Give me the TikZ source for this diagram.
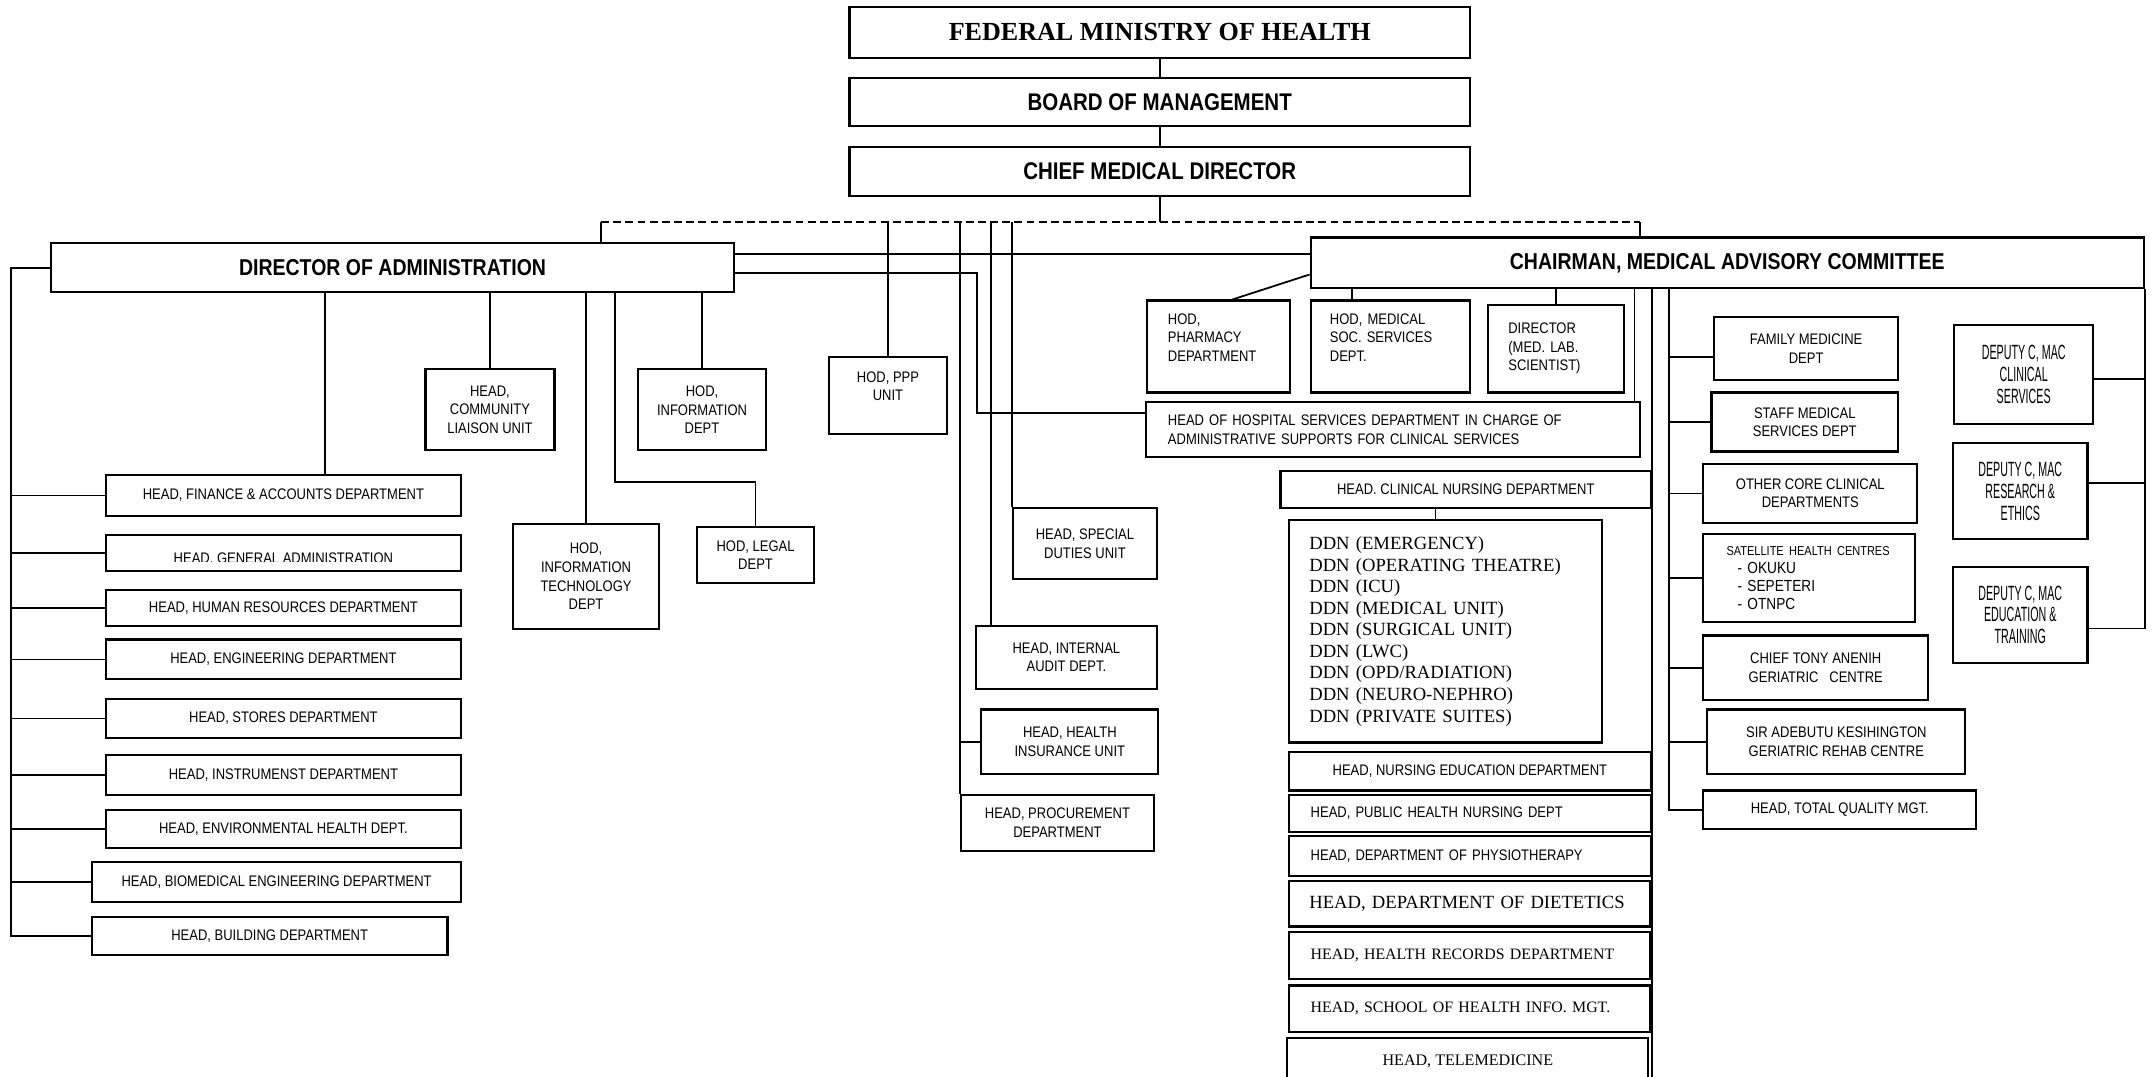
\documentclass[tikz,border=0pt]{standalone}
\usepackage{fontspec}
\setmainfont{Liberation Sans}[FakeStretch=0.85]
\newfontfamily\slimfont{Liberation Sans}[FakeStretch=0.52]
\newfontfamily\timesfont{Liberation Serif}
\newlength\un
\setlength\un{0.7pt}
\tikzset{
  box/.style={draw, line width=1.1pt, inner sep=0pt, align=center, font=\fontsize{7.8}{9.45}\selectfont},
  wh/.style 2 args={minimum width=#1*\un, minimum height=#2*\un},
  lbox/.style n args={3}{box, align=left, inner xsep=#3*\un, text width=(#1-2*#3)*\un, minimum height=#2*\un},
  headline/.style={font=\bfseries\fontsize{11.7}{14}\selectfont},
  dep/.style={font=\slimfont\fontsize{10.5}{11.2}\selectfont},
  serifbox/.style={font=\timesfont\fontsize{#1}{11}\selectfont},
  conn/.style={line width=0.9pt},
}
\begin{document}
\begin{tikzpicture}[x=0.7pt, y=-0.7pt]
\fill[white] (0,0) rectangle (1568,784);
\useasboundingbox (0,0) rectangle (1568,784);

% top of the chart
\node[box, wh={452}{37}, font=\timesfont\bfseries\fontsize{13.3}{16}\selectfont] (fmh) at (845,23.5) {FEDERAL MINISTRY OF HEALTH};
\node[box, wh={452}{35}, font=\bfseries\fontsize{12.3}{15}\selectfont] (bom) at (845,74.5) {BOARD OF MANAGEMENT};
\node[box, wh={452}{36}, font=\bfseries\fontsize{12.3}{15}\selectfont] (cmd) at (845,125) {CHIEF MEDICAL DIRECTOR};
\node[box, wh={498}{36}, headline] (doa) at (286,195) {DIRECTOR OF ADMINISTRATION};
\node[box, wh={607}{37}, headline] (cmac) at (1258.5,191.5) {CHAIRMAN, MEDICAL ADVISORY COMMITTEE};

\draw[conn] (fmh) -- (bom);
\draw[conn] (bom) -- (cmd);
\coordinate (dl) at (438,162);
\coordinate (dr) at (1195,162);
\draw[conn] (cmd) -- (cmd.south |- dl);
\draw[conn, dash pattern=on 4pt off 2.2pt] (dl) -- (dr);
\draw[conn] (dl) -- (dl |- doa.north);
\draw[conn] (dr) -- (dr |- cmac.north);

% administration, left column
\node[box, wh={259}{30}] (fin) at (206.5,361) {HEAD, FINANCE \& ACCOUNTS DEPARTMENT};
\node[box, wh={259}{26}] (gen) at (206.5,403) {};
\begin{scope}
  \clip (gen.north west) rectangle (gen.east |- 0,408.8);
  \node[anchor=base, font=\fontsize{7.8}{9.45}\selectfont] (gentxt) at (gen.center |- 0,410.6) {HEAD, GENERAL ADMINISTRATION};
\end{scope}
\node[box, wh={259}{26}] (hr) at (206.5,443) {HEAD, HUMAN RESOURCES DEPARTMENT};
\node[box, wh={259}{29}] (eng) at (206.5,480.5) {HEAD, ENGINEERING DEPARTMENT};
\node[box, wh={259}{29}] (sto) at (206.5,523.5) {HEAD, STORES DEPARTMENT};
\node[box, wh={259}{29}] (ins) at (206.5,564.5) {HEAD, INSTRUMENST DEPARTMENT};
\node[box, wh={259}{28}] (env) at (206.5,604) {HEAD, ENVIRONMENTAL HEALTH DEPT.};
\node[box, wh={269}{29}] (bio) at (201.5,642.5) {HEAD, BIOMEDICAL ENGINEERING DEPARTMENT};
\node[box, wh={259}{28}] (bld) at (196.5,682) {HEAD, BUILDING DEPARTMENT};

\coordinate (lb) at (8,0);
\draw[conn] (doa.west) -| (lb |- bld.west) -- (bld.west);
\foreach \b in {fin,gen,hr,eng,sto,ins,env,bio}
  \draw[conn] (lb |- \b.west) -- (\b.west);
\draw[conn] (doa.south -| 237,0) -- (fin.north -| 237,0);

% administration, middle
\node[box, wh={94}{59}] (comm) at (357,298.5) {HEAD,\\COMMUNITY\\LIAISON UNIT};
\node[box, wh={93}{59}] (info) at (511.5,298.5) {HOD,\\INFORMATION\\DEPT};
\node[box, wh={106}{76}] (it) at (427,420) {HOD,\\INFORMATION\\TECHNOLOGY\\DEPT};
\node[box, wh={85}{41}] (legal) at (550.5,404.5) {HOD, LEGAL\\DEPT};
\node[box, wh={86}{56}] (ppp) at (647,288) {HOD, PPP\\UNIT\\\mbox{}};
\node[box, wh={105}{52}] (spec) at (790.5,396) {HEAD, SPECIAL\\DUTIES UNIT};
\node[box, wh={132}{46}] (audit) at (777,479) {HEAD, INTERNAL\\AUDIT DEPT.};
\node[box, wh={129}{47}] (hins) at (779.5,540.5) {HEAD, HEALTH\\INSURANCE UNIT};
\node[box, wh={141}{41}] (proc) at (770.5,599.5) {HEAD, PROCUREMENT\\DEPARTMENT};

\draw[conn] (doa.south -| comm.north) -- (comm.north);
\draw[conn] (doa.south -| info.north) -- (info.north);
\draw[conn] (doa.south -| it.north) -- (it.north);
\draw[conn] (doa.south -| 448,0) |- (legal.north |- 0,351) -- (legal.north);
\draw[conn] (dl -| ppp.north) -- (ppp.north);
\draw[conn] (dl -| proc.north west) -- (proc.north west);
\draw[conn] (proc.north west |- hins.west) -- (hins.west);
\draw[conn] (dl -| 722,0) -- (audit.north -| 722,0);
\draw[conn] (dl -| spec.north west) -- (spec.north west);

% clinical side
\node[lbox={104}{67}{15}] (pharm) at (888,252.5) {HOD,\\PHARMACY\\DEPARTMENT\\\mbox{}};
\node[lbox={116}{67}{14}] (medsoc) at (1013,252.5) {HOD, MEDICAL\\SOC. SERVICES\\DEPT.\\\mbox{}};
\node[lbox={99}{64}{15}] (medlab) at (1133.5,254) {DIRECTOR\\(MED. LAB.\\SCIENTIST)};
\node[lbox={360}{40}{16}] (hosp) at (1015,313) {HEAD OF HOSPITAL SERVICES DEPARTMENT IN CHARGE OF\\ADMINISTRATIVE SUPPORTS FOR CLINICAL SERVICES};
\node[box, wh={270}{27}] (cnd) at (1068,356.5) {HEAD. CLINICAL NURSING DEPARTMENT};
\node[lbox={228}{162}{15}, serifbox=9.5] (ddn) at (1053,460) {DDN (EMERGENCY)\\DDN (OPERATING THEATRE)\\DDN (ICU)\\DDN (MEDICAL UNIT)\\DDN (SURGICAL UNIT)\\DDN (LWC)\\DDN (OPD/RADIATION)\\DDN (NEURO-NEPHRO)\\DDN (PRIVATE SUITES)};
\node[box, wh={264}{28}] (nedu) at (1071,562) {HEAD, NURSING EDUCATION DEPARTMENT};
\node[lbox={264}{27}{16}] (phn) at (1071,592.5) {HEAD, PUBLIC HEALTH NURSING DEPT};
\node[lbox={264}{29}{16}] (phys) at (1071,623.5) {HEAD, DEPARTMENT OF PHYSIOTHERAPY};
\node[lbox={263}{33}{15}, serifbox=9.5] (diet) at (1070.5,658.5) {HEAD, DEPARTMENT OF DIETETICS};
\node[lbox={263}{34}{16}, serifbox=8.1] (hrec) at (1070.5,696) {HEAD, HEALTH RECORDS DEPARTMENT};
\node[lbox={263}{34}{16}, serifbox=8.1] (shim) at (1070.5,735) {HEAD, SCHOOL OF HEALTH INFO. MGT.};
\node[box, wh={263}{34}, serifbox=8.2] (tele) at (1069.5,773) {HEAD, TELEMEDICINE};

\draw[conn] (doa.east |- 0,185) -- (cmac.west |- 0,185);
\draw[conn] (doa.east |- 0,199) -| (712,301) -- (hosp.west |- 0,301);
\draw[conn] (cmac.west |- 0,200) -- (pharm.north -| 898,0);
\draw[conn] (cmac.south -| 985,0) -- (medsoc.north -| 985,0);
\draw[conn] (cmac.south -| medlab.north) -- (medlab.north);
\draw[conn] (cmac.south -| 1191,0) -- (hosp.north -| 1191,0);
\draw[conn] (cmac.south -| cnd.east) -- (cnd.east |- tele.south);
\draw[conn] (cnd.south -| 1046,0) -- (ddn.north -| 1046,0);

% clinical departments and centres
\node[box, wh={134}{46}] (fam) at (1316,254) {FAMILY MEDICINE\\DEPT};
\node[box, wh={136}{43}] (staff) at (1315,307.5) {STAFF MEDICAL\\SERVICES DEPT};
\node[box, wh={156}{43}] (other) at (1319,359.5) {OTHER CORE CLINICAL\\DEPARTMENTS};
\node[lbox={154}{64}{17}, font=\fontsize{8.2}{9.2}\selectfont] (sat) at (1318,421) {{\fontsize{6.6}{9.2}\selectfont SATELLITE HEALTH CENTRES}\\\hspace*{8\un}- OKUKU\\\hspace*{8\un}- SEPETERI\\\hspace*{8\un}- OTNPC};
\node[box, wh={164}{47}] (tony) at (1323,486.5) {CHIEF TONY ANENIH\\GERIATRIC\ \ \ CENTRE};
\node[box, wh={188}{47}] (sir) at (1338,540.5) {SIR ADEBUTU KESIHINGTON\\GERIATRIC REHAB CENTRE};
\node[box, wh={199}{28}] (tqm) at (1340.5,590) {HEAD, TOTAL QUALITY MGT.};

\coordinate (rb) at (1216,0);
\draw[conn] (cmac.south -| rb) |- (tqm.west);
\draw[conn] (rb |- 0,260) -- (fam.west |- 0,260);
\foreach \b in {staff,other,sat,tony,sir}
  \draw[conn] (rb |- \b.west) -- (\b.west);

% deputies
\node[box, wh={101}{72}, dep] (dcs) at (1474.5,273) {DEPUTY C, MAC\\CLINICAL\\SERVICES};
\node[box, wh={98}{70}, dep] (dre) at (1472,358) {DEPUTY C, MAC\\RESEARCH \&\\ETHICS};
\node[box, wh={98}{70}, dep] (ded) at (1472,448) {DEPUTY C, MAC\\EDUCATION \&\\TRAINING};

\draw[conn] (cmac.south east) |- (ded.east |- 0,458);
\draw[conn] (cmac.south east |- 0,276) -- (dcs.east |- 0,276);
\draw[conn] (cmac.south east |- 0,352) -- (dre.east |- 0,352);
\end{tikzpicture}
\end{document}
